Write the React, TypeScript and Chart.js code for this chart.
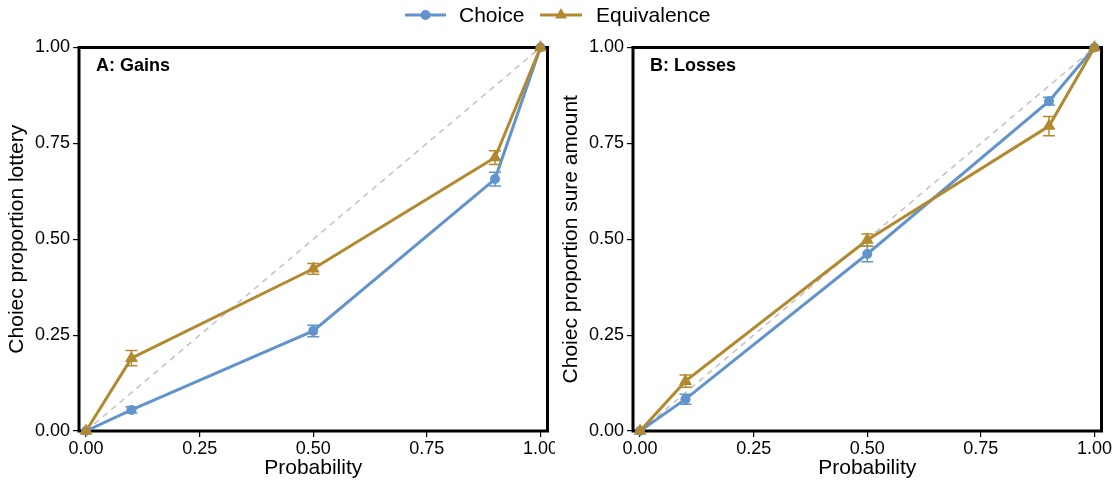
import React, { useEffect, useRef } from "react";
import { Chart, registerables } from "chart.js";

Chart.register(...registerables);

// ---- data ----
const probabilities = [0, 0.1, 0.5, 0.9, 1];

const gainsChoice = [0, 0.055, 0.261, 0.657, 1];
const gainsChoiceErr = [0, 0.008, 0.015, 0.018, 0];
const gainsEquivalence = [0, 0.19, 0.423, 0.713, 1];
const gainsEquivalenceErr = [0, 0.02, 0.014, 0.018, 0];

const lossesChoice = [0, 0.083, 0.4615, 0.86, 1];
const lossesChoiceErr = [0, 0.013, 0.02, 0.01, 0];
const lossesEquivalence = [0, 0.13, 0.498, 0.795, 1];
const lossesEquivalenceErr = [0, 0.016, 0.016, 0.025, 0];

const diagonal = [0, 1];
const xTicks = [0, 0.25, 0.5, 0.75, 1];
const yTicks = [0, 0.25, 0.5, 0.75, 1];

const seriesNames = ["Choice", "Equivalence"];

const BLUE = "#6194CC";
const GOLD = "#B3892F";
const FONT = "'Liberation Sans', Arial, Helvetica, sans-serif";

const framePlugin = {
  id: "frame",
  beforeDatasetsDraw(chart: any) {
    const { ctx, chartArea } = chart;
    ctx.save();
    ctx.strokeStyle = "#000";
    ctx.lineWidth = 3;
    ctx.strokeRect(chartArea.left, chartArea.top, chartArea.right - chartArea.left, chartArea.bottom - chartArea.top);
    ctx.restore();
  },
};

const errorBarPlugin = {
  id: "errorBars",
  afterDatasetsDraw(chart: any) {
    const { ctx } = chart;
    const xs = chart.scales.x;
    const ys = chart.scales.y;
    chart.data.datasets.forEach((ds: any) => {
      if (!ds.errors) return;
      ctx.save();
      ctx.strokeStyle = ds.borderColor;
      ctx.lineWidth = 1.5;
      ds.data.forEach((pt: any, i: number) => {
        const e = ds.errors[i];
        if (!e) return;
        const px = xs.getPixelForValue(pt.x);
        const y1 = ys.getPixelForValue(pt.y - e);
        const y2 = ys.getPixelForValue(pt.y + e);
        ctx.beginPath();
        ctx.moveTo(px, y1);
        ctx.lineTo(px, y2);
        ctx.moveTo(px - 6, y1);
        ctx.lineTo(px + 6, y1);
        ctx.moveTo(px - 6, y2);
        ctx.lineTo(px + 6, y2);
        ctx.stroke();
      });
      ctx.restore();
    });
  },
};

const panelLabelPlugin = {
  id: "panelLabel",
  afterDraw(chart: any, _args: any, opts: any) {
    const { ctx, chartArea } = chart;
    ctx.save();
    ctx.font = `bold 18px ${FONT}`;
    ctx.fillStyle = "#000";
    ctx.textBaseline = "middle";
    ctx.textAlign = "left";
    ctx.fillText(opts.text, chartArea.left + 17, chartArea.top + 19);
    ctx.restore();
  },
};

type PanelProps = {
  left: number;
  width: number;
  label: string;
  yTitle: string;
  choice: number[];
  choiceErr: number[];
  equiv: number[];
  equivErr: number[];
};

function Panel({ left, width, label, yTitle, choice, choiceErr, equiv, equivErr }: PanelProps) {
  const ref = useRef<HTMLCanvasElement | null>(null);
  useEffect(() => {
    if (!ref.current) return;
    const tickFont = { family: FONT, size: 18 };
    const chart = new Chart(ref.current, {
      type: "line",
      data: {
        datasets: [
          {
            label: seriesNames[0],
            data: probabilities.map((p, i) => ({ x: p, y: choice[i] })),
            borderColor: BLUE,
            backgroundColor: BLUE,
            borderWidth: 3,
            pointStyle: "circle",
            pointRadius: 5,
            pointBorderWidth: 0,
            order: 2,
            clip: false,
            errors: choiceErr,
          } as any,
          {
            label: seriesNames[1],
            data: probabilities.map((p, i) => ({ x: p, y: equiv[i] })),
            borderColor: GOLD,
            backgroundColor: GOLD,
            borderWidth: 3,
            pointStyle: "triangle",
            pointRadius: 7.5,
            pointBorderWidth: 0,
            order: 1,
            clip: false,
            errors: equivErr,
          } as any,
          {
            label: "diagonal",
            data: diagonal.map((v) => ({ x: v, y: v })),
            borderColor: "#C2C2C2",
            borderWidth: 1.5,
            borderDash: [6, 5],
            pointRadius: 0,
            order: 10,
          } as any,
        ],
      },
      options: {
        animation: false,
        responsive: false,
        layout: { padding: { left: 0, right: width - 547.5, top: 47.5, bottom: 0 } },
        plugins: {
          legend: { display: false },
          tooltip: { enabled: false },
          panelLabel: { text: label },
        } as any,
        scales: {
          x: {
            type: "linear",
            min: -0.0155,
            max: 1.0155,
            afterBuildTicks: (s: any) => {
              s.ticks = xTicks.map((v) => ({ value: v }));
            },
            afterFit: (s: any) => {
              s.height = 53;
              s.paddingLeft = 0;
              s.paddingRight = 0;
            },
            grid: { drawOnChartArea: false, drawTicks: true, tickLength: 6, color: "#000", lineWidth: 1.2 },
            border: { display: false },
            ticks: {
              font: tickFont,
              color: "#000",
              padding: 1,
              maxRotation: 0,
              autoSkip: false,
              callback: (v: any) => Number(v).toFixed(2),
            },
            title: {
              display: true,
              text: "Probability",
              font: { family: FONT, size: 21 },
              color: "#000",
              padding: { top: 0, bottom: 3 },
            },
          },
          y: {
            type: "linear",
            min: 0,
            max: 1,
            afterBuildTicks: (s: any) => {
              s.ticks = yTicks.map((v) => ({ value: v }));
            },
            afterFit: (s: any) => {
              s.width = 79;
              s.paddingTop = 0;
              s.paddingBottom = 0;
            },
            grid: { drawOnChartArea: false, drawTicks: true, tickLength: 6, color: "#000", lineWidth: 1.2 },
            border: { display: false },
            ticks: {
              font: tickFont,
              color: "#000",
              padding: 3,
              autoSkip: false,
              callback: (v: any) => Number(v).toFixed(2),
            },
            title: {
              display: true,
              text: yTitle,
              font: { family: FONT, size: 21 },
              color: "#000",
              padding: { top: 5, bottom: 0 },
            },
          },
        },
      } as any,
      plugins: [framePlugin, errorBarPlugin, panelLabelPlugin],
    });
    return () => chart.destroy();
  }, []);
  return (
    <canvas
      ref={ref}
      width={width}
      height={484}
      style={{ position: "absolute", left, top: 0, width, height: 484 }}
    />
  );
}

function Legend() {
  const textStyle: React.CSSProperties = {
    position: "absolute",
    top: 0,
    height: 30,
    lineHeight: "30px",
    fontFamily: FONT,
    fontSize: 21,
    color: "#000",
    whiteSpace: "nowrap",
  };
  return (
    <>
      <svg
        width={1117}
        height={30}
        style={{ position: "absolute", left: 0, top: 0 }}
      >
        <line x1={405} y1={15} x2={446} y2={15} stroke={BLUE} strokeWidth={3} />
        <circle cx={425.5} cy={15} r={5} fill={BLUE} />
        <line x1={540} y1={15} x2={582} y2={15} stroke={GOLD} strokeWidth={3} />
        <polygon points="561,8 567,18.4 555,18.4" fill={GOLD} />
      </svg>
      <span style={{ ...textStyle, left: 459 }}>{seriesNames[0]}</span>
      <span style={{ ...textStyle, left: 596 }}>{seriesNames[1]}</span>
    </>
  );
}

export default function App() {
  return (
    <div
      style={{
        position: "absolute",
        left: 0,
        top: 0,
        width: 1117,
        height: 484,
        background: "#fff",
        overflow: "hidden",
      }}
    >
      <Panel
        left={0}
        width={555}
        label="A: Gains"
        yTitle="Choiec proportion lottery"
        choice={gainsChoice}
        choiceErr={gainsChoiceErr}
        equiv={gainsEquivalence}
        equivErr={gainsEquivalenceErr}
      />
      <Panel
        left={554}
        width={563}
        label="B: Losses"
        yTitle="Choiec proportion sure amount"
        choice={lossesChoice}
        choiceErr={lossesChoiceErr}
        equiv={lossesEquivalence}
        equivErr={lossesEquivalenceErr}
      />
      <Legend />
    </div>
  );
}
